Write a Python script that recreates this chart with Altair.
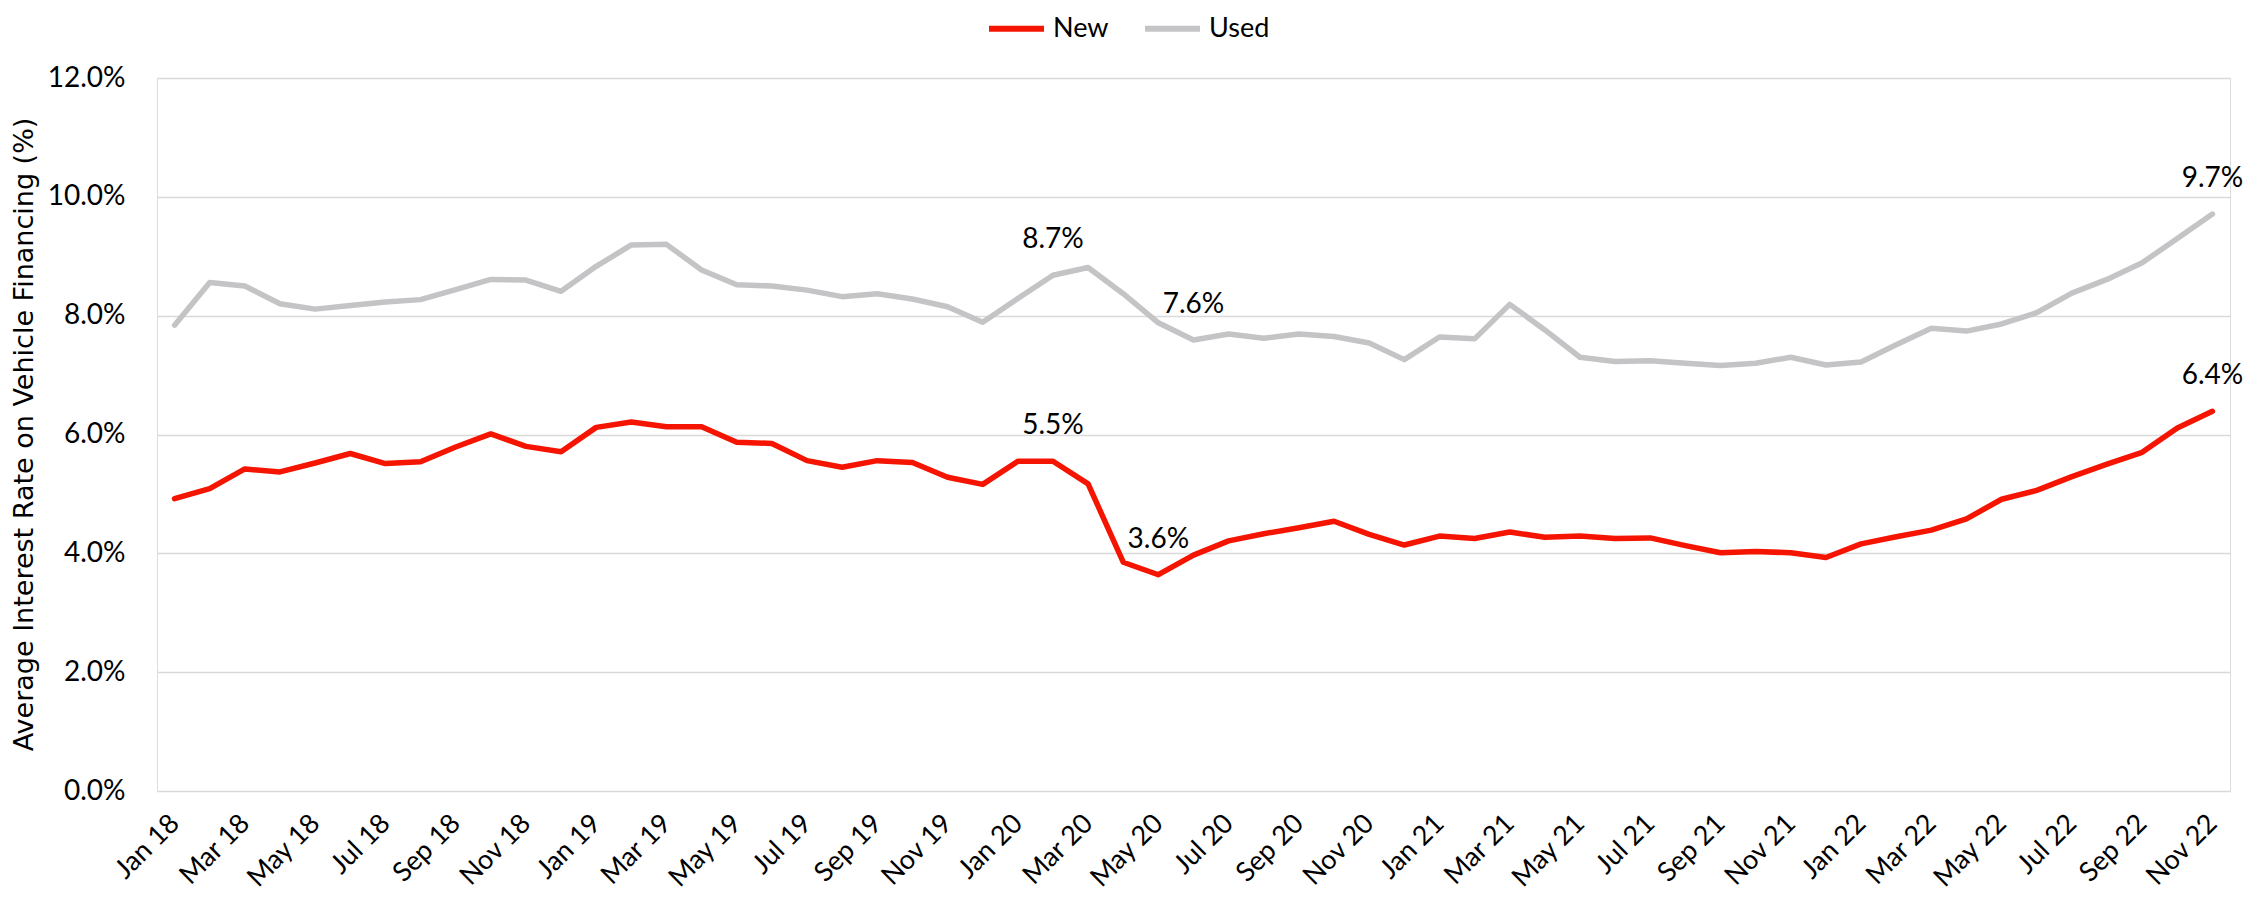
import altair as alt
import pandas as pd

months = [
    "Jan 18", "Feb 18", "Mar 18", "Apr 18", "May 18", "Jun 18", "Jul 18", "Aug 18", "Sep 18", "Oct 18", "Nov 18", "Dec 18",
    "Jan 19", "Feb 19", "Mar 19", "Apr 19", "May 19", "Jun 19", "Jul 19", "Aug 19", "Sep 19", "Oct 19", "Nov 19", "Dec 19",
    "Jan 20", "Feb 20", "Mar 20", "Apr 20", "May 20", "Jun 20", "Jul 20", "Aug 20", "Sep 20", "Oct 20", "Nov 20", "Dec 20",
    "Jan 21", "Feb 21", "Mar 21", "Apr 21", "May 21", "Jun 21", "Jul 21", "Aug 21", "Sep 21", "Oct 21", "Nov 21", "Dec 21",
    "Jan 22", "Feb 22", "Mar 22", "Apr 22", "May 22", "Jun 22", "Jul 22", "Aug 22", "Sep 22", "Oct 22", "Nov 22",
]

new_rate = [
    4.92, 5.09, 5.42, 5.37, 5.52, 5.68, 5.51, 5.54, 5.79, 6.01, 5.80, 5.71,
    6.12, 6.21, 6.13, 6.13, 5.87, 5.85, 5.56, 5.45, 5.56, 5.53, 5.28, 5.16,
    5.55, 5.55, 5.17, 3.85, 3.64, 3.97, 4.21, 4.33, 4.43, 4.54, 4.32, 4.14,
    4.29, 4.25, 4.36, 4.27, 4.29, 4.25, 4.26, 4.13, 4.01, 4.03, 4.01, 3.93,
    4.16, 4.28, 4.39, 4.58, 4.91, 5.06, 5.29, 5.50, 5.70, 6.11, 6.39,
]

used_rate = [
    7.84, 8.56, 8.50, 8.20, 8.11, 8.17, 8.23, 8.27, 8.44, 8.61, 8.60, 8.41,
    8.83, 9.19, 9.20, 8.77, 8.52, 8.50, 8.43, 8.32, 8.37, 8.28, 8.15, 7.89,
    8.29, 8.68, 8.81, 8.37, 7.88, 7.59, 7.69, 7.62, 7.69, 7.65, 7.54, 7.26,
    7.64, 7.61, 8.19, 7.76, 7.30, 7.23, 7.24, 7.20, 7.16, 7.20, 7.30, 7.17,
    7.22, 7.51, 7.79, 7.74, 7.86, 8.05, 8.38, 8.61, 8.89, 9.30, 9.71,
]

tick_months = ["Jan 18", "Mar 18", "May 18", "Jul 18", "Sep 18", "Nov 18",
               "Jan 19", "Mar 19", "May 19", "Jul 19", "Sep 19", "Nov 19",
               "Jan 20", "Mar 20", "May 20", "Jul 20", "Sep 20", "Nov 20",
               "Jan 21", "Mar 21", "May 21", "Jul 21", "Sep 21", "Nov 21",
               "Jan 22", "Mar 22", "May 22", "Jul 22", "Sep 22", "Nov 22"]

y_ticks = [0, 2, 4, 6, 8, 10, 12]

series_names = ["New", "Used"]
series_colors = ["#F51400", "#C4C4C6"]

label_months = ["Feb 20", "Jun 20", "Nov 22", "Feb 20", "May 20", "Nov 22"]
label_series = ["Used", "Used", "Used", "New", "New", "New"]
label_values = [8.68, 7.59, 9.71, 5.55, 3.64, 6.39]
label_texts = ["8.7%", "7.6%", "9.7%", "5.5%", "3.6%", "6.4%"]

rows = []
for m, v in zip(months, new_rate):
    rows.append({"month": m, "series": "New", "rate": v})
for m, v in zip(months, used_rate):
    rows.append({"month": m, "series": "Used", "rate": v})
df = pd.DataFrame(rows)

ann = pd.DataFrame({"month": label_months, "series": label_series,
                    "rate": label_values, "text": label_texts})

FONT = "Lato"

x_enc = alt.X(
    "month:O",
    scale=alt.Scale(type="point", padding=0.5, domain=months),
    axis=alt.Axis(
        values=tick_months, labelAngle=-45, labelAlign="right", labelBaseline="middle",
        labelPadding=28, ticks=False, domain=False, grid=False, title=None,
        labelFont=FONT, labelFontSize=27, labelColor="#000000", labelOverlap=False,
    ),
)

y_enc = alt.Y(
    "rate:Q",
    scale=alt.Scale(domain=[0, 12], nice=False, zero=True),
    axis=alt.Axis(
        values=y_ticks, labelExpr="format(datum.value, '.1f') + '%'",
        ticks=False, domain=False, grid=True, gridColor="#D9D9D9", gridWidth=1.5,
        labelPadding=32, labelFont=FONT, labelFontSize=28, labelColor="#000000",
        title="Average Interest Rate on Vehicle Financing (%)",
        titleFont="DejaVu Sans", titleFontSize=27, titleFontWeight="normal",
        titleColor="#000000", titleAngle=-90, titleX=-133, titleY=356,
        titleAlign="center", titleBaseline="middle",
    ),
)

lines = alt.Chart(df).mark_line(strokeWidth=5.5, strokeCap="round", strokeJoin="round").encode(
    x=x_enc,
    y=y_enc,
    color=alt.Color(
        "series:N",
        scale=alt.Scale(domain=series_names, range=series_colors),
        legend=alt.Legend(
            orient="none", legendX=829, legendY=-80, direction="horizontal", title=None,
            symbolType="stroke", symbolSize=3025, symbolStrokeWidth=6,
            labelFont=FONT, labelFontSize=27, labelColor="#000000", labelOffset=6,
            columnPadding=24, padding=0,
        ),
    ),
    detail="series:N",
)

labels = alt.Chart(ann).mark_text(
    dy=-27, baseline="alphabetic", align="center", font=FONT, fontSize=28, color="#000000"
).encode(
    x=alt.X("month:O", scale=alt.Scale(type="point", padding=0.5, domain=months)),
    y=alt.Y("rate:Q"),
    text="text:N",
)

chart = alt.layer(lines, labels).properties(
    width=2073, height=713,
    autosize=alt.AutoSizeParams(type="none"),
    padding={"left": 149, "top": 70, "right": 16, "bottom": 102},
).configure_view(stroke=None).configure(background="white")

chart.save("out.html", embed_options={"renderer": "svg", "actions": False})
